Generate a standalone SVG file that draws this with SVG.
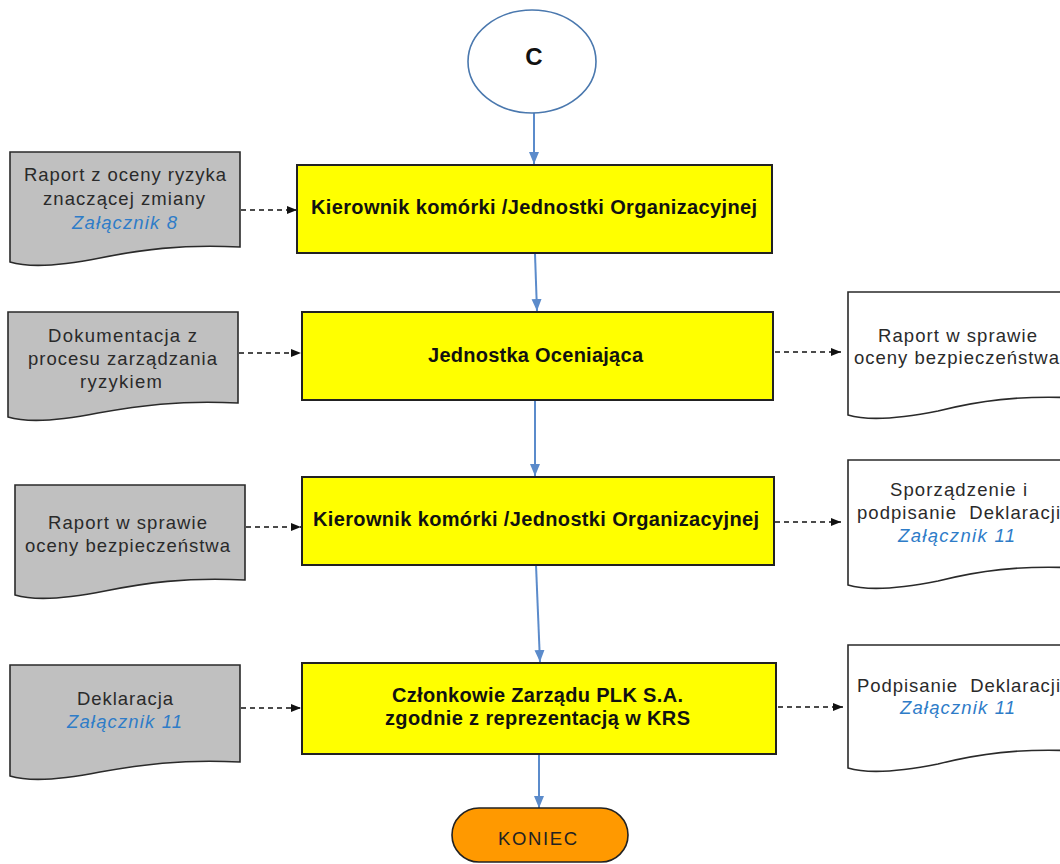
<svg xmlns="http://www.w3.org/2000/svg" width="1060" height="864" viewBox="0 0 1060 864">
<style>
.box{fill:#FFFF00;stroke:#222;stroke-width:2}
.doc{fill:#C0C0C0;stroke:#2a2a2a;stroke-width:1.6}
.docw{fill:#FFFFFF;stroke:#2a2a2a;stroke-width:1.6}
.bt{font-family:"Liberation Sans",Arial,sans-serif;font-weight:bold;font-size:20px;fill:#111;text-anchor:middle}
.dt{font-family:"Liberation Sans",Arial,sans-serif;font-size:18.5px;fill:#2a2a2a;text-anchor:middle}
.zl{font-family:"Liberation Sans",Arial,sans-serif;font-size:18.5px;font-style:italic;fill:#2E7CC8;text-anchor:middle}
.flow{stroke:#5B8BCB;stroke-width:2;fill:none}
.dash{stroke:#111;stroke-width:1.6;stroke-dasharray:5,4;fill:none}
</style>
<defs>
<marker id="ab" markerUnits="userSpaceOnUse" markerWidth="13" markerHeight="11" refX="12" refY="5" orient="auto">
<path d="M0,0 L12,5 L0,10 Z" fill="#5B8BCB"/>
</marker>
<marker id="ak" markerUnits="userSpaceOnUse" markerWidth="11" markerHeight="9" refX="10" refY="4" orient="auto">
<path d="M0,0 L10,4 L0,8 Z" fill="#111"/>
</marker>
</defs>
<rect width="1060" height="864" fill="#FFFFFF"/>

<g id="connectors">
<line class="flow" x1="534" y1="113" x2="534" y2="164" marker-end="url(#ab)"/>
<line class="flow" x1="535" y1="254" x2="537" y2="311" marker-end="url(#ab)"/>
<line class="flow" x1="535" y1="400" x2="535" y2="476" marker-end="url(#ab)"/>
<line class="flow" x1="536" y1="565" x2="540" y2="662" marker-end="url(#ab)"/>
<line class="flow" x1="539" y1="754" x2="539" y2="808" marker-end="url(#ab)"/>
<line class="dash" x1="241" y1="210" x2="297" y2="210" marker-end="url(#ak)"/>
<line class="dash" x1="239" y1="353" x2="301" y2="353" marker-end="url(#ak)"/>
<line class="dash" x1="246" y1="527" x2="301" y2="527" marker-end="url(#ak)"/>
<line class="dash" x1="241" y1="708" x2="301" y2="708" marker-end="url(#ak)"/>
<line class="dash" x1="775" y1="352" x2="841" y2="352" marker-end="url(#ak)"/>
<line class="dash" x1="775" y1="522" x2="841" y2="522" marker-end="url(#ak)"/>
<line class="dash" x1="778" y1="707" x2="843" y2="707" marker-end="url(#ak)"/>
</g>

<g id="start">
<ellipse cx="532" cy="61.5" rx="64" ry="51.5" fill="#FFFFFF" stroke="#4A78AE" stroke-width="1.6"/>
<text x="534" y="65" font-family="'Liberation Sans',Arial,sans-serif" font-size="24" font-weight="bold" fill="#111" text-anchor="middle">C</text>
</g>

<g id="box1">
<rect class="box" x="297" y="165" width="475" height="88"/>
<text class="bt" x="534" y="214" textLength="446" lengthAdjust="spacing">Kierownik komórki /Jednostki Organizacyjnej</text>
</g>
<g id="box2">
<rect class="box" x="302" y="312" width="471" height="88"/>
<text class="bt" x="535.5" y="362" textLength="215" lengthAdjust="spacing">Jednostka Oceniająca</text>
</g>
<g id="box3">
<rect class="box" x="302" y="477" width="472" height="88"/>
<text class="bt" x="536" y="526" textLength="446" lengthAdjust="spacing">Kierownik komórki /Jednostki Organizacyjnej</text>
</g>
<g id="box4">
<rect class="box" x="302" y="663" width="474" height="91"/>
<text class="bt" x="537.5" y="702" textLength="291" lengthAdjust="spacing">Członkowie Zarządu PLK S.A.</text>
<text class="bt" x="537.5" y="725" textLength="305" lengthAdjust="spacing">zgodnie z reprezentacją w KRS</text>
</g>

<g id="doc1">
<path class="doc" d="M10,152 H240 V247 c-60,-3 -100,3 -140,11 c-40,8 -70,10 -90,4 Z"/>
<text class="dt" x="125" y="181" textLength="202" lengthAdjust="spacing">Raport z oceny ryzyka</text>
<text class="dt" x="124" y="205" textLength="162" lengthAdjust="spacing">znaczącej zmiany</text>
<text class="zl" x="124.5" y="229" textLength="105" lengthAdjust="spacing">Załącznik 8</text>
</g>
<g id="doc2">
<path class="doc" d="M8,312 H238 V403 c-60,-3 -100,3 -140,10 c-40,8 -70,10 -90,4 Z"/>
<text class="dt" x="122.5" y="342" textLength="149" lengthAdjust="spacing">Dokumentacja z</text>
<text class="dt" x="122.5" y="365" textLength="189" lengthAdjust="spacing">procesu zarządzania</text>
<text class="dt" x="121" y="388" textLength="82" lengthAdjust="spacing">ryzykiem</text>
</g>
<g id="doc3">
<path class="doc" d="M15,485 H245 V580 c-60,-3 -100,3 -140,11 c-40,8 -70,10 -90,4 Z"/>
<text class="dt" x="127.5" y="529" textLength="159" lengthAdjust="spacing">Raport w sprawie</text>
<text class="dt" x="127.5" y="552" textLength="205" lengthAdjust="spacing">oceny bezpieczeństwa</text>
</g>
<g id="doc4">
<path class="doc" d="M10,665 H240 V762 c-60,-3 -100,3 -140,10 c-40,8 -70,10 -90,4 Z"/>
<text class="dt" x="125" y="705" textLength="96" lengthAdjust="spacing">Deklaracja</text>
<text class="zl" x="124.5" y="728" textLength="115" lengthAdjust="spacing">Załącznik 11</text>
</g>

<g id="out1">
<path class="docw" d="M848,292 H1078 V398 c-60,-3 -100,3 -140,13 c-40,8 -70,10 -90,4 Z"/>
<text class="dt" x="957.5" y="342" textLength="159" lengthAdjust="spacing">Raport w sprawie</text>
<text class="dt" x="854" y="364" style="text-anchor:start" textLength="205" lengthAdjust="spacing">oceny bezpieczeństwa</text>
</g>
<g id="out2">
<path class="docw" d="M848,460 H1078 V568 c-60,-3 -100,3 -140,13 c-40,8 -70,10 -90,4 Z"/>
<text class="dt" x="958.5" y="496" textLength="137" lengthAdjust="spacing">Sporządzenie i</text>
<text class="dt" x="857" y="519" style="text-anchor:start" textLength="203" lengthAdjust="spacing" xml:space="preserve">podpisanie  Deklaracji</text>
<text class="zl" x="956.5" y="542" textLength="117" lengthAdjust="spacing">Załącznik 11</text>
</g>
<g id="out3">
<path class="docw" d="M848,645 H1078 V751 c-60,-3 -100,3 -140,13 c-40,8 -70,10 -90,4 Z"/>
<text class="dt" x="857" y="692" style="text-anchor:start" textLength="203" lengthAdjust="spacing" xml:space="preserve">Podpisanie  Deklaracji</text>
<text class="zl" x="957.5" y="714" textLength="115" lengthAdjust="spacing">Załącznik 11</text>
</g>

<g id="end">
<rect x="452" y="808" width="176" height="54" rx="27" ry="27" fill="#FF9900" stroke="#222" stroke-width="1.6"/>
<text class="dt" x="537.5" y="845" style="fill:#222" font-size="18" textLength="79" lengthAdjust="spacing">KONIEC</text>
</g>
</svg>
